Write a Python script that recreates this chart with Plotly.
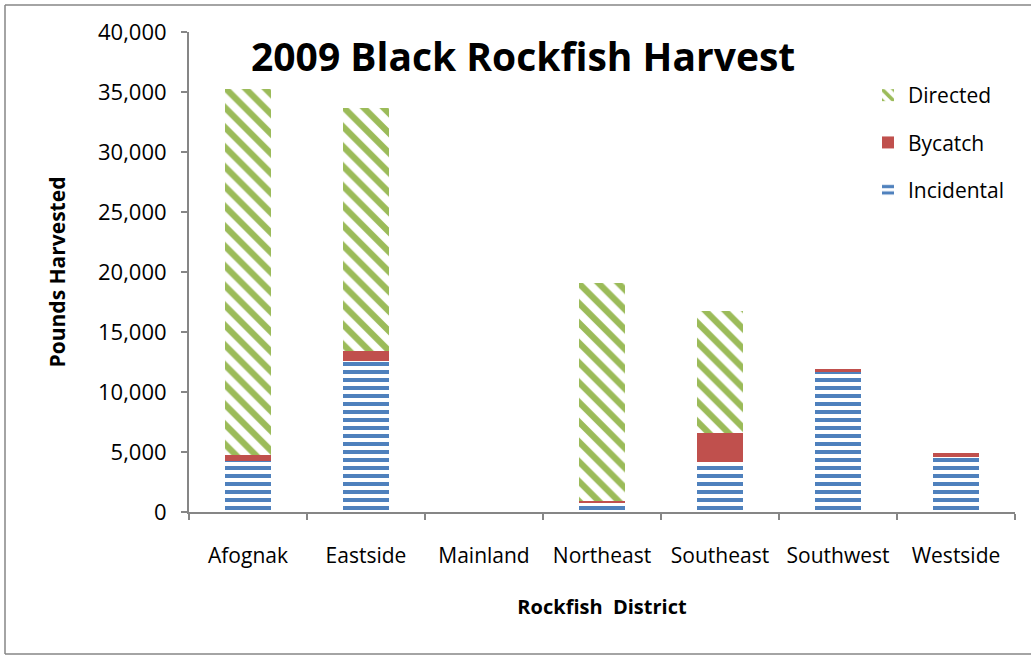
import plotly.graph_objects as go

districts = ["Afognak", "Eastside", "Mainland", "Northeast", "Southeast", "Southwest", "Westside"]
incidental = [4250, 12600, 0, 750, 4150, 11650, 4600]
bycatch = [500, 800, 0, 200, 2450, 250, 350]
directed = [30500, 20250, 0, 18150, 10150, 0, 0]
y_ticks = [0, 5000, 10000, 15000, 20000, 25000, 30000, 35000, 40000]
y_tick_labels = [f"{v:,}" for v in y_ticks]

FONT = "Open Sans"

fig = go.Figure()
fig.add_trace(go.Bar(
    x=districts, y=incidental, name="Incidental", legendgroup="c", legendrank=3,
    marker=dict(color="#4F81BD", line=dict(width=0),
                pattern=dict(shape="-", size=8, solidity=0.5, fgcolor="#4F81BD",
                             fgopacity=1, bgcolor="white")),
))
fig.add_trace(go.Bar(
    x=districts, y=bycatch, name="Bycatch", legendgroup="b", legendrank=2,
    marker=dict(color="#C0504D", line=dict(width=0)),
))
fig.add_trace(go.Bar(
    x=districts, y=directed, name="Directed", legendgroup="a", legendrank=1,
    marker=dict(color="#9BBB59", line=dict(width=0),
                pattern=dict(shape="\\", size=14, solidity=0.45, fgcolor="#9BBB59",
                             fgopacity=1, bgcolor="white")),
))

W, H = 1031, 655
L, R, T, B = 189, 16, 32, 143
pw, ph = W - L - R, H - T - B

def px(x):
    return (x - L) / pw

def py(y):
    return (H - B - y) / ph

border = dict(xref="paper", yref="paper", line=dict(color="#868686", width=1.5), layer="below")

fig.update_layout(
    width=W, height=H,
    margin=dict(l=L, r=R, t=T, b=B, autoexpand=False),
    barmode="stack", bargap=0.61,
    paper_bgcolor="white", plot_bgcolor="white",
    font=dict(family=FONT, color="black", size=21),
    showlegend=True,
    legend=dict(x=px(868), y=py(75), xanchor="left", yanchor="top",
                traceorder="grouped", tracegroupgap=17,
                font=dict(size=21), bgcolor="rgba(0,0,0,0)", itemwidth=30),
    xaxis=dict(showline=True, linecolor="#868686", linewidth=2,
               ticks="outside", tickson="boundaries", ticklen=6, tickcolor="#868686", tickwidth=2,
               showgrid=False, tickfont=dict(size=21), tickangle=0, ticklabelstandoff=24,
               title=dict(text="<b>Rockfish  District</b>", font=dict(size=20), standoff=32)),
    yaxis=dict(range=[0, 40000], tickvals=y_ticks, ticktext=y_tick_labels,
               showline=True, linecolor="#868686", linewidth=2,
               ticks="outside", ticklen=6, tickcolor="#868686", tickwidth=2,
               showgrid=False, zeroline=False, tickfont=dict(size=22), ticklabelstandoff=10,
               title=dict(text="<b>Pounds Harvested</b>", font=dict(size=21), standoff=27)),
    annotations=[dict(text="<b>2009 Black Rockfish Harvest</b>", x=px(523), y=py(55),
                      xref="paper", yref="paper", showarrow=False,
                      font=dict(size=39, family=FONT), xanchor="center", yanchor="middle")],
    shapes=[
        dict(type="line", x0=px(5), x1=px(1031), y0=py(5), y1=py(5), **border),
        dict(type="line", x0=px(5), x1=px(5), y0=py(5), y1=py(654), **border),
        dict(type="line", x0=px(5), x1=px(1031), y0=py(654), y1=py(654), **border),
    ],
)

fig.write_html("out.html", config={"displayModeBar": False},
               post_script="document.body.style.margin='0';")
